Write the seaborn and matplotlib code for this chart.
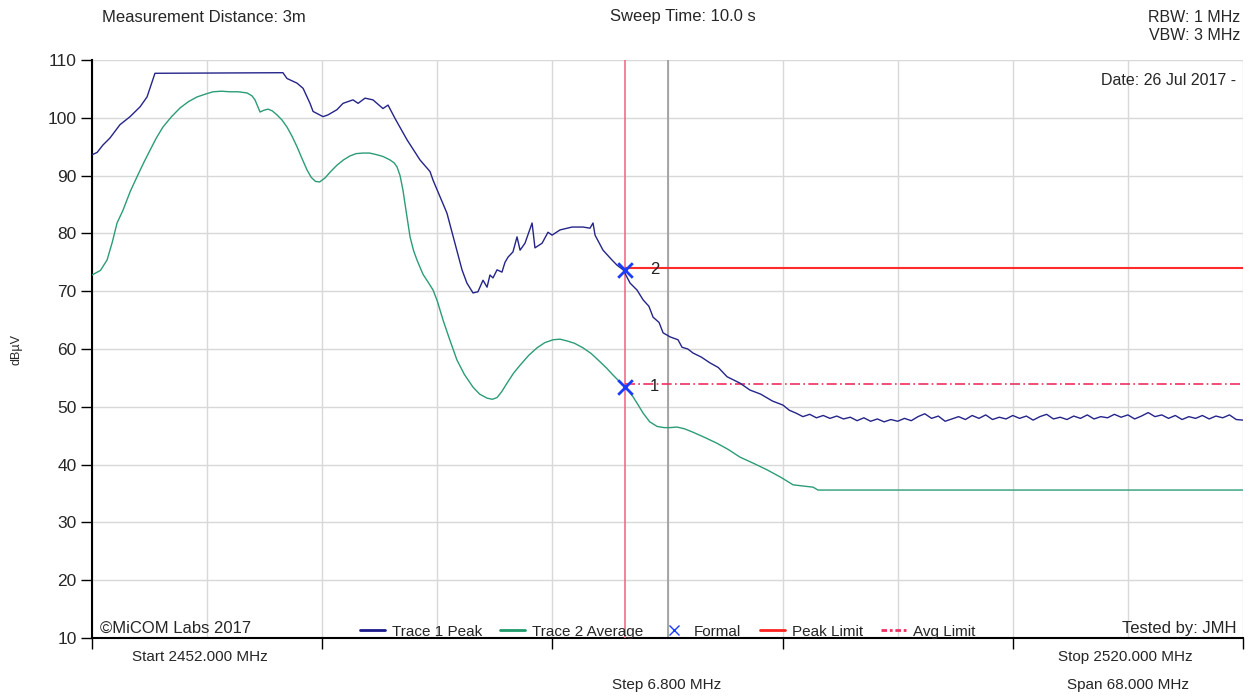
import numpy as np
import pandas as pd
import seaborn as sns
import matplotlib.pyplot as plt
from matplotlib.lines import Line2D

# Trace 1 Peak: sweep points (MHz) and level (dBuV)
peak_mhz = [2452.00, 2452.30, 2452.65, 2453.06, 2453.65, 2454.25, 2454.84, 2455.25, 2455.72,
            2463.28, 2463.52, 2464.11, 2464.47, 2464.88, 2465.06, 2465.65, 2465.94, 2466.47,
            2466.83, 2467.42, 2467.72, 2468.13, 2468.60, 2469.19, 2469.49, 2469.90, 2470.61,
            2471.38, 2471.97, 2472.15, 2472.97, 2473.86, 2474.15, 2474.51, 2474.80, 2475.10,
            2475.34, 2475.51, 2475.69, 2475.93, 2476.22, 2476.40, 2476.58, 2476.87, 2477.11,
            2477.29, 2477.58, 2478.00, 2478.17, 2478.59, 2478.94, 2479.18, 2479.65, 2480.36,
            2481.01, 2481.42, 2481.60, 2481.72, 2482.19, 2482.72, 2483.02, 2483.38, 2483.79,
            2484.20, 2484.56, 2484.90, 2485.15, 2485.50, 2485.74, 2486.15, 2486.62, 2486.86,
            2487.20, 2487.51, 2488.00, 2488.51, 2489.00, 2489.52, 2490.28, 2490.87, 2491.50,
            2492.20, 2492.82,
            2493.2, 2493.6, 2494.0, 2494.4, 2494.8, 2495.2, 2495.6, 2496.0, 2496.4, 2496.8,
            2497.2, 2497.6, 2498.0, 2498.4, 2498.8, 2499.2, 2499.6, 2500.0, 2500.4, 2500.8,
            2501.2, 2501.6, 2502.0, 2502.4, 2502.8, 2503.2, 2503.6, 2504.0, 2504.4, 2504.8,
            2505.2, 2505.6, 2506.0, 2506.4, 2506.8, 2507.2, 2507.6, 2508.0, 2508.4, 2508.8,
            2509.2, 2509.6, 2510.0, 2510.4, 2510.8, 2511.2, 2511.6, 2512.0, 2512.4, 2512.8,
            2513.2, 2513.6, 2514.0, 2514.4, 2514.8, 2515.2, 2515.6, 2516.0, 2516.4, 2516.8,
            2517.2, 2517.6, 2518.0, 2518.4, 2518.8, 2519.2, 2519.6, 2520.0]
peak_dbuv = [93.6, 94.0, 95.3, 96.5, 98.8, 100.2, 101.9, 103.6, 107.7,
             107.8, 106.8, 106.0, 105.1, 102.5, 101.1, 100.2, 100.5, 101.4,
             102.5, 103.1, 102.5, 103.4, 103.1, 101.6, 102.2, 99.9, 96.2,
             92.7, 90.7, 89.2, 83.5, 73.7, 71.4, 69.7, 69.9, 71.9,
             70.7, 72.8, 72.3, 73.7, 73.3, 75.0, 75.9, 76.8, 79.4,
             77.1, 78.3, 81.8, 77.5, 78.3, 80.2, 79.7, 80.6, 81.1,
             81.1, 80.9, 81.8, 79.7, 77.1, 75.4, 74.5, 73.7, 71.4,
             70.2, 68.5, 67.4, 65.5, 64.6, 62.8, 62.1, 61.6, 60.3,
             60.0, 59.3, 58.6, 57.6, 56.8, 55.2, 54.1, 52.9, 52.2,
             51.0, 50.3,
             49.4, 48.9, 48.3, 48.7, 48.1, 48.5, 48.0, 48.4, 47.9, 48.2,
             47.6, 48.1, 47.5, 47.9, 47.4, 47.8, 47.5, 48.0, 47.6, 48.3,
             48.8, 48.0, 48.4, 47.5, 47.9, 48.3, 47.8, 48.5, 48.0, 48.6,
             47.8, 48.2, 47.9, 48.5, 48.0, 48.4, 47.7, 48.3, 48.7, 47.9,
             48.2, 47.8, 48.4, 48.0, 48.6, 47.9, 48.3, 48.1, 48.7, 48.2,
             48.6, 47.9, 48.4, 49.0, 48.3, 48.6, 48.0, 48.5, 47.8, 48.3,
             48.0, 48.5, 47.9, 48.4, 48.1, 48.6, 47.8, 47.7]

# Trace 2 Average
avg_mhz = [2452.00, 2452.50, 2452.89, 2453.20, 2453.48, 2453.83, 2454.25, 2454.66, 2455.05, 2455.43,
           2455.80, 2456.19, 2456.70, 2457.20, 2457.70, 2458.20, 2458.70, 2459.15, 2459.65, 2460.15,
           2460.65, 2461.16, 2461.45, 2461.63, 2461.93, 2462.15, 2462.40, 2462.65, 2462.93, 2463.23,
           2463.52, 2463.82, 2464.11, 2464.40, 2464.70, 2464.95, 2465.20, 2465.45, 2465.77, 2466.10,
           2466.47, 2466.85, 2467.24, 2467.60, 2468.01, 2468.40, 2468.84, 2469.20, 2469.61, 2469.85,
           2470.02, 2470.20, 2470.37, 2470.55, 2470.79, 2471.00, 2471.20, 2471.40, 2471.56, 2471.85,
           2472.15, 2472.40, 2472.74, 2473.10, 2473.56, 2474.00, 2474.51, 2474.90, 2475.34, 2475.65,
           2475.93, 2476.20, 2476.52, 2476.90, 2477.29, 2477.80, 2478.29, 2478.75, 2479.24, 2479.65,
           2480.06, 2480.50, 2481.01, 2481.50, 2482.01, 2482.40, 2482.78, 2483.15, 2483.50, 2483.75,
           2483.97, 2484.25, 2484.56, 2484.95, 2485.39, 2485.80, 2486.15, 2486.56, 2487.00, 2487.51,
           2488.20, 2488.92, 2489.60, 2490.28, 2491.10, 2491.88, 2492.70, 2493.42, 2494.00, 2494.60,
           2494.89, 2520.00]
avg_dbuv = [72.8, 73.6, 75.4, 78.5, 81.8, 84.0, 87.2, 89.8, 92.2, 94.4,
            96.5, 98.4, 100.2, 101.7, 102.8, 103.6, 104.1, 104.5, 104.6, 104.5,
            104.5, 104.3, 103.8, 103.1, 101.0, 101.3, 101.5, 101.2, 100.5, 99.6,
            98.4, 96.8, 95.0, 93.0, 91.0, 89.7, 89.0, 88.9, 89.6, 90.7,
            91.8, 92.7, 93.4, 93.8, 93.9, 93.9, 93.6, 93.3, 92.7, 92.2,
            91.5, 90.0, 87.5, 84.0, 79.4, 77.0, 75.4, 74.0, 72.9, 71.6,
            70.2, 68.3, 65.0, 61.9, 58.1, 55.6, 53.4, 52.2, 51.5, 51.3,
            51.6, 52.6, 54.1, 55.8, 57.2, 58.9, 60.2, 61.1, 61.6, 61.7,
            61.4, 61.0, 60.2, 59.2, 57.8, 56.7, 55.5, 54.4, 53.4, 52.6,
            51.7, 50.4, 48.9, 47.4, 46.6, 46.4, 46.4, 46.5, 46.2, 45.6,
            44.7, 43.7, 42.6, 41.3, 40.2, 39.1, 37.8, 36.5, 36.3, 36.1,
            35.6, 35.6]

band_edge = 2483.5
peak_limit = 74
avg_limit = 54
marker_freqs = [2483.5, 2483.5]
marker_levels = [73.7, 53.5]
marker_names = ["2", "1"]

start, stop, step = 2452.0, 2520.0, 6.8

peak_col = "#24248a"
avg_col = "#2b9c78"

sns.set_theme(style="whitegrid")
plt.rcParams['font.family'] = ['Liberation Sans', 'DejaVu Sans']

fig = plt.figure(figsize=(12.5, 6.96), dpi=100)
ax = fig.add_axes([0.0736, 0.0833, 0.9208, 0.8305])

df_peak = pd.DataFrame({"MHz": peak_mhz, "dBuV": peak_dbuv})
df_avg = pd.DataFrame({"MHz": avg_mhz, "dBuV": avg_dbuv})

sns.lineplot(data=df_peak, x="MHz", y="dBuV", ax=ax, color=peak_col, lw=1.0,
             estimator=None, sort=False, zorder=4)
sns.lineplot(data=df_avg, x="MHz", y="dBuV", ax=ax, color=avg_col, lw=1.0,
             estimator=None, sort=False, zorder=4)

# limits and band edge
ax.axvline(band_edge, color="#f06080", lw=1.1, zorder=3)
ax.axvline(start + 5 * step, color="#a0a0a0", lw=1.3, zorder=2)
ax.hlines(peak_limit, band_edge, stop, color="#ff2a2a", lw=1.5, zorder=3)
ax.hlines(avg_limit, band_edge, stop, color="#f03060", lw=1.2, ls=(0, (6, 2, 1, 2)), zorder=3)

ax.scatter(marker_freqs, marker_levels, marker="x", s=110, color="#1a3cff", linewidths=2, zorder=5)
for f, lv, nm in zip(marker_freqs, marker_levels, marker_names):
    ax.text(f + 1.75, lv, nm, fontsize=12, va="center", ha="center", color="#222222", zorder=5)

ax.set_xlim(start, stop)
ax.set_ylim(10, 110)
ax.set_yticks(np.arange(10, 111, 10))
ax.set_xticks([start + 2 * step * k for k in range(6)])
ax.set_xticklabels([])
ax.set_xticks([start + step * k for k in range(11)], minor=True)
ax.grid(which="both", color="#d8d8d8", lw=1)
ax.tick_params(axis="y", length=8, width=1, color="black", labelsize=12.5, pad=3, left=True)
ax.tick_params(axis="x", which="major", length=8, width=1, color="black", bottom=True)
ax.tick_params(axis="x", which="minor", length=0)
ax.set_xlabel("")
ax.set_ylabel("dBµV", fontsize=9, labelpad=18)
for s in ["top", "right"]:
    ax.spines[s].set_visible(False)
for s in ["left", "bottom"]:
    ax.spines[s].set_color("black")
    ax.spines[s].set_linewidth(1.5)
ax.set_facecolor("white")

handles = [Line2D([], [], color="#1a1a8c", lw=2),
           Line2D([], [], color="#1f9a6a", lw=2),
           Line2D([], [], color="#1a3cff", marker="x", ls="none", markersize=7),
           Line2D([], [], color="#ff2020", lw=2),
           Line2D([], [], color="#f03060", lw=2, ls=(0, (2, 1, 1, 1)))]
labels = ["Trace 1 Peak", "Trace 2 Average", "Formal", "Peak Limit", "Avg Limit"]
ax.legend(handles, labels, loc="lower center", bbox_to_anchor=(0.5, -0.025), ncol=5,
          frameon=False, fontsize=11, handlelength=1.65, handletextpad=0.45, columnspacing=1.2)

ax.text(0.007, 0.004, "©MiCOM Labs 2017", transform=ax.transAxes, fontsize=12, va="bottom")
ax.text(0.994, 0.004, "Tested by: JMH", transform=ax.transAxes, fontsize=12, va="bottom", ha="right")
ax.text(0.994, 0.978, "Date: 26 Jul 2017 -", transform=ax.transAxes, fontsize=11.5, va="top", ha="right")

fig.text(102 / 1250, 1 - 17 / 696, "Measurement Distance: 3m", fontsize=12, va="center")
fig.text(683 / 1250, 1 - 17 / 696, "Sweep Time: 10.0 s", fontsize=12, va="center", ha="center")
fig.text(1240 / 1250, 1 - 17 / 696, "RBW: 1 MHz", fontsize=11.5, va="center", ha="right")
fig.text(1240 / 1250, 1 - 36 / 696, "VBW: 3 MHz", fontsize=11.5, va="center", ha="right")
fig.text(200 / 1250, 1 - 657 / 696, "Start 2452.000 MHz", fontsize=11, va="center", ha="center")
fig.text(1125 / 1250, 1 - 657 / 696, "Stop 2520.000 MHz", fontsize=11, va="center", ha="center")
fig.text(667 / 1250, 1 - 685 / 696, "Step 6.800 MHz", fontsize=11, va="center", ha="center")
fig.text(1128 / 1250, 1 - 685 / 696, "Span 68.000 MHz", fontsize=11, va="center", ha="center")

fig.savefig("out.png", dpi=100, facecolor="white")
